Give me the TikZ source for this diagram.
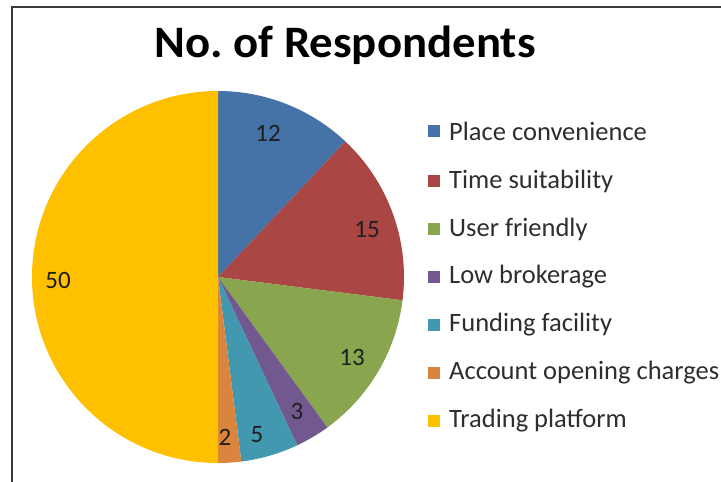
\documentclass[tikz,border=0pt]{standalone}
\usepackage{fontspec}
\setmainfont{Carlito}
\definecolor{cBlue}{HTML}{4572A7}
\definecolor{cRed}{HTML}{AA4643}
\definecolor{cGreen}{HTML}{89A54E}
\definecolor{cPurple}{HTML}{71588F}
\definecolor{cTeal}{HTML}{4198AF}
\definecolor{cOrange}{HTML}{DB843D}
\definecolor{cGold}{HTML}{FFC000}
\definecolor{frameGray}{HTML}{3A3A3A}
\begin{document}
\begin{tikzpicture}[x=1pt,y=-1pt,
  lab/.style={font=\fontsize{25}{27}\selectfont, text=black!88, inner sep=0pt},
  legtxt/.style={font=\fontsize{26.5}{28}\selectfont, text=black!82, anchor=west, inner sep=0pt},
  legsq/.style={minimum size=12pt, inner sep=0pt, draw=none}]
\useasboundingbox (0,0) rectangle (721,482);
\fill[white] (0,0) rectangle (721,482);
% frame
\draw[frameGray, line width=2pt] (12,490) -- (12,7) -- (730,7);
% pie (y axis points down, so angles are negated)
\coordinate (c) at (218,277);
\def\R{186}
\fill[cBlue]   (c) -- +(-90:\R)   arc[start angle=-90,   end angle=-46.8, radius=\R] -- cycle;
\fill[cRed]    (c) -- +(-46.8:\R) arc[start angle=-46.8, end angle=7.2,   radius=\R] -- cycle;
\fill[cGreen]  (c) -- +(7.2:\R)   arc[start angle=7.2,   end angle=54,    radius=\R] -- cycle;
\fill[cPurple] (c) -- +(54:\R)    arc[start angle=54,    end angle=64.8,  radius=\R] -- cycle;
\fill[cTeal]   (c) -- +(64.8:\R)  arc[start angle=64.8,  end angle=82.8,  radius=\R] -- cycle;
\fill[cOrange] (c) -- +(82.8:\R)  arc[start angle=82.8,  end angle=90,    radius=\R] -- cycle;
\fill[cGold]   (c) -- +(90:\R)    arc[start angle=90,    end angle=270,   radius=\R] -- cycle;
% title
\node[font=\fontsize{45}{48}\selectfont\bfseries, inner sep=0pt, xscale=1.04] (title) at (345,45) {No.\ of Respondents};
% data labels
\node[lab] (l12) at (268,133) {12};
\node[lab] (l15) at (367,230) {15};
\node[lab] (l13) at (352,357) {13};
\node[lab] (l3) at (297,411) {3};
\node[lab] (l5) at (257,435) {5};
\node[lab] (l2) at (225,437) {2};
\node[lab] (l50) at (58,280) {50};
% legend
\foreach \col/\txt/\yy [count=\i] in {cBlue/Place convenience/131, cRed/Time suitability/181, cGreen/User friendly/229, cPurple/Low brokerage/277, cTeal/Funding facility/325, cOrange/Account opening charges/373, cGold/Trading platform/421}{
  \node[legsq, fill=\col] (sq\i) at (434,\yy) {};
  \node[legtxt] (lt\i) at (449,\yy) {\txt};
}
\end{tikzpicture}
\end{document}
